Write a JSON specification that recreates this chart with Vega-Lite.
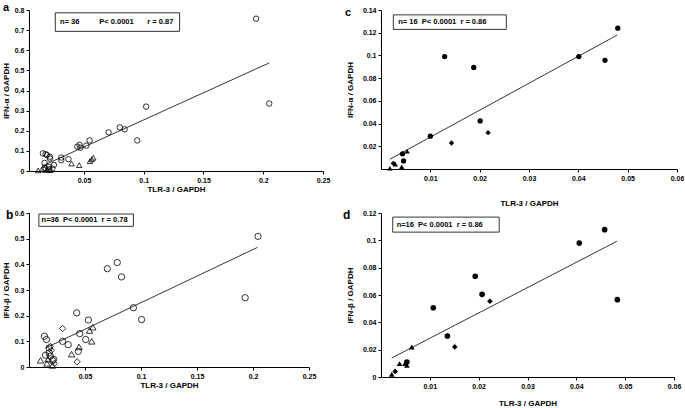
{
  "$schema": "https://vega.github.io/schema/vega-lite/v6.json",
  "background": "white",
  "padding": {"left": 2, "top": 1, "right": 0, "bottom": 0},
  "config": {
    "view": {"stroke": null},
    "axis": {"grid": false, "domainColor": "black", "tickColor": "black", "labelColor": "black", "titleColor": "black",
      "labelFont": "Liberation Sans", "titleFont": "Liberation Sans", "labelFontWeight": "bold", "titleFontWeight": "bold",
      "labelFontSize": 7, "titleFontSize": 8, "tickSize": 3, "domainWidth": 1, "tickWidth": 1, "labelPadding": 2,
      "labelOverlap": false, "labelFlush": false},
    "text": {"font": "Liberation Sans", "fontWeight": "bold", "color": "black", "align": "left", "baseline": "middle"}
  },
  "columns": 2,
  "align": {"row": "none", "column": "all"},
  "spacing": {"row": 2, "column": 10},
  "concat": [
        {
          "width": 294, "height": 161,
          "layer": [
            {
              "data": {"values": [
                {"tlr3": 0.194, "ifn": 0.757, "g": "1"}, {"tlr3": 0.205, "ifn": 0.335, "g": "1"}, {"tlr3": 0.102, "ifn": 0.32, "g": "1"},
                {"tlr3": 0.080, "ifn": 0.217, "g": "1"}, {"tlr3": 0.084, "ifn": 0.207, "g": "1"}, {"tlr3": 0.0706, "ifn": 0.192, "g": "1"},
                {"tlr3": 0.0946, "ifn": 0.152, "g": "1"}, {"tlr3": 0.0547, "ifn": 0.152, "g": "1"}, {"tlr3": 0.0463, "ifn": 0.13, "g": "1"},
                {"tlr3": 0.0444, "ifn": 0.121, "g": "1"}, {"tlr3": 0.047, "ifn": 0.116, "g": "1"}, {"tlr3": 0.052, "ifn": 0.126, "g": "1"},
                {"tlr3": 0.031, "ifn": 0.067, "g": "1"}, {"tlr3": 0.031, "ifn": 0.054, "g": "1"}, {"tlr3": 0.037, "ifn": 0.059, "g": "1"},
                {"tlr3": 0.0156, "ifn": 0.0875, "g": "1"}, {"tlr3": 0.0179, "ifn": 0.084, "g": "1"}, {"tlr3": 0.019, "ifn": 0.079, "g": "1"},
                {"tlr3": 0.0215, "ifn": 0.071, "g": "1"}, {"tlr3": 0.0215, "ifn": 0.062, "g": "1"}, {"tlr3": 0.017, "ifn": 0.04, "g": "1"},
                {"tlr3": 0.0248, "ifn": 0.03, "g": "1"}, {"tlr3": 0.0206, "ifn": 0.02, "g": "1"}, {"tlr3": 0.018, "ifn": 0.012, "g": "1"},
                {"tlr3": 0.021, "ifn": 0.008, "g": "1"}, {"tlr3": 0.016, "ifn": 0.006, "g": "1"}, {"tlr3": 0.0235, "ifn": 0.012, "g": "1"},
                {"tlr3": 0.017, "ifn": 0.015, "g": "1"},
                {"tlr3": 0.0117, "ifn": 0.003, "g": "2"}, {"tlr3": 0.0396, "ifn": 0.037, "g": "2"}, {"tlr3": 0.046, "ifn": 0.029, "g": "2"},
                {"tlr3": 0.055, "ifn": 0.049, "g": "2"}, {"tlr3": 0.0578, "ifn": 0.066, "g": "2"}, {"tlr3": 0.0565, "ifn": 0.058, "g": "2"},
                {"tlr3": 0.019, "ifn": 0.005, "g": "2"}, {"tlr3": 0.022, "ifn": 0.004, "g": "2"}
              ]},
              "mark": {"type": "point", "filled": false, "stroke": "black", "strokeWidth": 0.8, "size": 30, "opacity": 1},
              "encoding": {
                "x": {"field": "tlr3", "type": "quantitative", "scale": {"domain": [0.004, 0.25], "nice": false, "zero": false},
                  "axis": {"values": [0.05, 0.1, 0.15, 0.2, 0.25], "tickCount": 50, "format": "~g", "title": "TLR-3 / GAPDH", "titlePadding": 2}},
                "y": {"field": "ifn", "type": "quantitative", "scale": {"domain": [0, 0.8], "nice": false, "zero": false},
                  "axis": {"values": [0, 0.1, 0.2, 0.3, 0.4, 0.5, 0.6, 0.7, 0.8], "tickCount": 50, "format": "~g", "title": "IFN-α / GAPDH", "titlePadding": 4}},
                "shape": {"field": "g", "type": "nominal", "scale": {"domain": ["1", "2", "3"], "range": ["circle", "triangle-up", "diamond"]}, "legend": null}
              }
            },
            {
              "data": {"values": [{"tlr3": 0.015, "ifn": 0.025}, {"tlr3": 0.205, "ifn": 0.537}]},
              "mark": {"type": "line", "color": "black", "strokeWidth": 0.8},
              "encoding": {"x": {"field": "tlr3", "type": "quantitative"}, "y": {"field": "ifn", "type": "quantitative"}}
            },
            {
              "data": {"values": [{"label": "box"}]},
              "mark": {"type": "rect", "fill": "white", "stroke": "black", "strokeWidth": 0.8},
              "encoding": {"x": {"datum": 0.026}, "x2": {"datum": 0.130}, "y": {"datum": 0.786}, "y2": {"datum": 0.694}}
            },
            {
              "data": {"values": [{"label": "n= 36"}]},
              "mark": {"type": "text", "fontSize": 7.5},
              "encoding": {"x": {"datum": 0.030}, "y": {"datum": 0.74}, "text": {"field": "label"}}
            },
            {
              "data": {"values": [{"label": "P< 0.0001"}]},
              "mark": {"type": "text", "fontSize": 7.5},
              "encoding": {"x": {"datum": 0.0628}, "y": {"datum": 0.74}, "text": {"field": "label"}}
            },
            {
              "data": {"values": [{"label": "r = 0.87"}]},
              "mark": {"type": "text", "fontSize": 7.5},
              "encoding": {"x": {"datum": 0.103}, "y": {"datum": 0.74}, "text": {"field": "label"}}
            },
            {
              "data": {"values": [{"label": "a"}]},
              "mark": {"type": "text", "fontSize": 11},
              "encoding": {"x": {"datum": -0.0178}, "y": {"datum": 0.8124}, "text": {"field": "label"}}
            }
          ]
        },
        {
          "width": 296, "height": 159,
          "layer": [
            {
              "data": {"values": [
                {"tlr3": 0.048, "ifn": 0.124, "g": "1"}, {"tlr3": 0.0401, "ifn": 0.099, "g": "1"}, {"tlr3": 0.0454, "ifn": 0.0957, "g": "1"},
                {"tlr3": 0.0129, "ifn": 0.099, "g": "1"}, {"tlr3": 0.0188, "ifn": 0.0894, "g": "1"}, {"tlr3": 0.0201, "ifn": 0.0423, "g": "1"},
                {"tlr3": 0.010, "ifn": 0.0289, "g": "1"}, {"tlr3": 0.00435, "ifn": 0.0134, "g": "1"}, {"tlr3": 0.00456, "ifn": 0.0071, "g": "1"},
                {"tlr3": 0.0217, "ifn": 0.032, "g": "3"}, {"tlr3": 0.0143, "ifn": 0.0229, "g": "3"}, {"tlr3": 0.0025, "ifn": 0.005, "g": "3"},
                {"tlr3": 0.0053, "ifn": 0.0157, "g": "2"}, {"tlr3": 0.0018, "ifn": 0.0006, "g": "2"}, {"tlr3": 0.0042, "ifn": 0.002, "g": "2"},
                {"tlr3": 0.0029, "ifn": 0.0043, "g": "2"}
              ]},
              "mark": {"type": "point", "filled": true, "color": "black", "size": 28, "opacity": 1},
              "encoding": {
                "x": {"field": "tlr3", "type": "quantitative", "scale": {"domain": [0, 0.06], "nice": false, "zero": false},
                  "axis": {"values": [0.01, 0.02, 0.03, 0.04, 0.05, 0.06], "tickCount": 50, "format": "~g", "title": "TLR-3 / GAPDH", "titlePadding": 18}},
                "y": {"field": "ifn", "type": "quantitative", "scale": {"domain": [0, 0.14], "nice": false, "zero": false},
                  "axis": {"values": [0.02, 0.04, 0.06, 0.08, 0.1, 0.12, 0.14], "tickCount": 50, "format": "~g", "title": "IFN-α / GAPDH", "titlePadding": 8}},
                "shape": {"field": "g", "type": "nominal", "scale": {"domain": ["1", "2", "3"], "range": ["circle", "triangle-up", "diamond"]}, "legend": null}
              }
            },
            {
              "data": {"values": [{"tlr3": 0.0018, "ifn": 0.0086}, {"tlr3": 0.0479, "ifn": 0.118}]},
              "mark": {"type": "line", "color": "black", "strokeWidth": 0.8},
              "encoding": {"x": {"field": "tlr3", "type": "quantitative"}, "y": {"field": "ifn", "type": "quantitative"}}
            },
            {
              "data": {"values": [{"label": "box"}]},
              "mark": {"type": "rect", "fill": "white", "stroke": "black", "strokeWidth": 0.8},
              "encoding": {"x": {"datum": 0.0025}, "x2": {"datum": 0.0254}, "y": {"datum": 0.1357}, "y2": {"datum": 0.1229}}
            },
            {
              "data": {"values": [{"label": "n= 16\u00a0\u00a0P< 0.0001\u00a0\u00a0r = 0.86"}]},
              "mark": {"type": "text", "fontSize": 7.5},
              "encoding": {"x": {"datum": 0.0035}, "y": {"datum": 0.1293}, "text": {"field": "label"}}
            },
            {
              "data": {"values": [{"label": "c"}]},
              "mark": {"type": "text", "fontSize": 11},
              "encoding": {"x": {"datum": -0.0073}, "y": {"datum": 0.1374}, "text": {"field": "label"}}
            }
          ]
        },
        {
          "width": 280, "height": 154,
          "layer": [
            {
              "data": {"values": [
                {"tlr3": 0.2045, "ifn": 0.509, "g": "1"}, {"tlr3": 0.193, "ifn": 0.27, "g": "1"}, {"tlr3": 0.0788, "ifn": 0.407, "g": "1"},
                {"tlr3": 0.070, "ifn": 0.383, "g": "1"}, {"tlr3": 0.0826, "ifn": 0.351, "g": "1"}, {"tlr3": 0.0932, "ifn": 0.231, "g": "1"},
                {"tlr3": 0.1005, "ifn": 0.185, "g": "1"}, {"tlr3": 0.0426, "ifn": 0.211, "g": "1"}, {"tlr3": 0.053, "ifn": 0.183, "g": "1"},
                {"tlr3": 0.0453, "ifn": 0.13, "g": "1"}, {"tlr3": 0.0506, "ifn": 0.107, "g": "1"}, {"tlr3": 0.030, "ifn": 0.10, "g": "1"},
                {"tlr3": 0.035, "ifn": 0.087, "g": "1"}, {"tlr3": 0.044, "ifn": 0.061, "g": "1"}, {"tlr3": 0.0138, "ifn": 0.12, "g": "1"},
                {"tlr3": 0.0156, "ifn": 0.107, "g": "1"}, {"tlr3": 0.018, "ifn": 0.074, "g": "1"}, {"tlr3": 0.0147, "ifn": 0.046, "g": "1"},
                {"tlr3": 0.019, "ifn": 0.042, "g": "1"}, {"tlr3": 0.021, "ifn": 0.025, "g": "1"}, {"tlr3": 0.018, "ifn": 0.055, "g": "1"},
                {"tlr3": 0.022, "ifn": 0.03, "g": "1"},
                {"tlr3": 0.030, "ifn": 0.15, "g": "3"}, {"tlr3": 0.043, "ifn": 0.02, "g": "3"}, {"tlr3": 0.019, "ifn": 0.08, "g": "3"},
                {"tlr3": 0.0226, "ifn": 0.014, "g": "3"}, {"tlr3": 0.02, "ifn": 0.065, "g": "3"},
                {"tlr3": 0.0103, "ifn": 0.026, "g": "2"}, {"tlr3": 0.016, "ifn": 0.014, "g": "2"}, {"tlr3": 0.038, "ifn": 0.05, "g": "2"},
                {"tlr3": 0.0447, "ifn": 0.078, "g": "2"}, {"tlr3": 0.054, "ifn": 0.142, "g": "2"}, {"tlr3": 0.057, "ifn": 0.155, "g": "2"},
                {"tlr3": 0.056, "ifn": 0.1, "g": "2"}, {"tlr3": 0.021, "ifn": 0.006, "g": "2"}, {"tlr3": 0.017, "ifn": 0.03, "g": "2"}
              ]},
              "mark": {"type": "point", "filled": false, "stroke": "black", "strokeWidth": 0.8, "size": 40, "opacity": 1},
              "encoding": {
                "x": {"field": "tlr3", "type": "quantitative", "scale": {"domain": [0, 0.25], "nice": false, "zero": false},
                  "axis": {"values": [0.05, 0.1, 0.15, 0.2, 0.25], "tickCount": 50, "format": "~g", "title": "TLR-3 / GAPDH", "titlePadding": 2}},
                "y": {"field": "ifn", "type": "quantitative", "scale": {"domain": [0, 0.6], "nice": false, "zero": false},
                  "axis": {"values": [0, 0.1, 0.2, 0.3, 0.4, 0.5, 0.6], "tickCount": 50, "format": "~g", "title": "IFN-β  / GAPDH", "titlePadding": 4}},
                "shape": {"field": "g", "type": "nominal", "scale": {"domain": ["1", "2", "3"], "range": ["circle", "triangle-up", "diamond"]}, "legend": null}
              }
            },
            {
              "data": {"values": [{"tlr3": 0.0147, "ifn": 0.074}, {"tlr3": 0.204, "ifn": 0.466}]},
              "mark": {"type": "line", "color": "black", "strokeWidth": 0.8},
              "encoding": {"x": {"field": "tlr3", "type": "quantitative"}, "y": {"field": "ifn", "type": "quantitative"}}
            },
            {
              "data": {"values": [{"label": "box"}]},
              "mark": {"type": "rect", "fill": "white", "stroke": "black", "strokeWidth": 0.8},
              "encoding": {"x": {"datum": 0.0088}, "x2": {"datum": 0.0932}, "y": {"datum": 0.596}, "y2": {"datum": 0.548}}
            },
            {
              "data": {"values": [{"label": "n=36\u00a0\u00a0P< 0.0001\u00a0\u00a0r = 0.78"}]},
              "mark": {"type": "text", "fontSize": 7.5},
              "encoding": {"x": {"datum": 0.0112}, "y": {"datum": 0.572}, "text": {"field": "label"}}
            },
            {
              "data": {"values": [{"label": "b"}]},
              "mark": {"type": "text", "fontSize": 12},
              "encoding": {"x": {"datum": -0.0205}, "y": {"datum": 0.592}, "text": {"field": "label"}}
            }
          ]
        },
        {
          "width": 293, "height": 164,
          "layer": [
            {
              "data": {"values": [
                {"tlr3": 0.0458, "ifn": 0.1078, "g": "1"}, {"tlr3": 0.0406, "ifn": 0.098, "g": "1"}, {"tlr3": 0.0484, "ifn": 0.0566, "g": "1"},
                {"tlr3": 0.0193, "ifn": 0.0737, "g": "1"}, {"tlr3": 0.0207, "ifn": 0.0605, "g": "1"}, {"tlr3": 0.0107, "ifn": 0.0507, "g": "1"},
                {"tlr3": 0.0136, "ifn": 0.030, "g": "1"}, {"tlr3": 0.0053, "ifn": 0.011, "g": "1"},
                {"tlr3": 0.0223, "ifn": 0.0554, "g": "3"}, {"tlr3": 0.0151, "ifn": 0.022, "g": "3"}, {"tlr3": 0.0029, "ifn": 0.0041, "g": "3"},
                {"tlr3": 0.0063, "ifn": 0.022, "g": "2"}, {"tlr3": 0.0038, "ifn": 0.0098, "g": "2"}, {"tlr3": 0.0053, "ifn": 0.0085, "g": "2"},
                {"tlr3": 0.0022, "ifn": 0.002, "g": "2"}, {"tlr3": 0.0049, "ifn": 0.0098, "g": "2"}
              ]},
              "mark": {"type": "point", "filled": true, "color": "black", "size": 32, "opacity": 1},
              "encoding": {
                "x": {"field": "tlr3", "type": "quantitative", "scale": {"domain": [0, 0.06], "nice": false, "zero": false},
                  "axis": {"values": [0.01, 0.02, 0.03, 0.04, 0.05, 0.06], "tickCount": 50, "format": "~g", "title": "TLR-3 / GAPDH", "titlePadding": 10}},
                "y": {"field": "ifn", "type": "quantitative", "scale": {"domain": [0, 0.12], "nice": false, "zero": false},
                  "axis": {"values": [0, 0.02, 0.04, 0.06, 0.08, 0.1, 0.12], "tickCount": 50, "format": "~g", "title": "IFN-β  / GAPDH", "titlePadding": 8}},
                "shape": {"field": "g", "type": "nominal", "scale": {"domain": ["1", "2", "3"], "range": ["circle", "triangle-up", "diamond"]}, "legend": null}
              }
            },
            {
              "data": {"values": [{"tlr3": 0.0022, "ifn": 0.0139}, {"tlr3": 0.0483, "ifn": 0.0993}]},
              "mark": {"type": "line", "color": "black", "strokeWidth": 0.8},
              "encoding": {"x": {"field": "tlr3", "type": "quantitative"}, "y": {"field": "ifn", "type": "quantitative"}}
            },
            {
              "data": {"values": [{"label": "box"}]},
              "mark": {"type": "rect", "fill": "white", "stroke": "black", "strokeWidth": 0.8},
              "encoding": {"x": {"datum": 0.0024}, "x2": {"datum": 0.0242}, "y": {"datum": 0.117}, "y2": {"datum": 0.106}}
            },
            {
              "data": {"values": [{"label": "n=16\u00a0\u00a0P< 0.0001\u00a0\u00a0r = 0.86"}]},
              "mark": {"type": "text", "fontSize": 7.5},
              "encoding": {"x": {"datum": 0.0032}, "y": {"datum": 0.1115}, "text": {"field": "label"}}
            },
            {
              "data": {"values": [{"label": "d"}]},
              "mark": {"type": "text", "fontSize": 12},
              "encoding": {"x": {"datum": -0.0078}, "y": {"datum": 0.1185}, "text": {"field": "label"}}
            }
          ]
        }
  ]
}
